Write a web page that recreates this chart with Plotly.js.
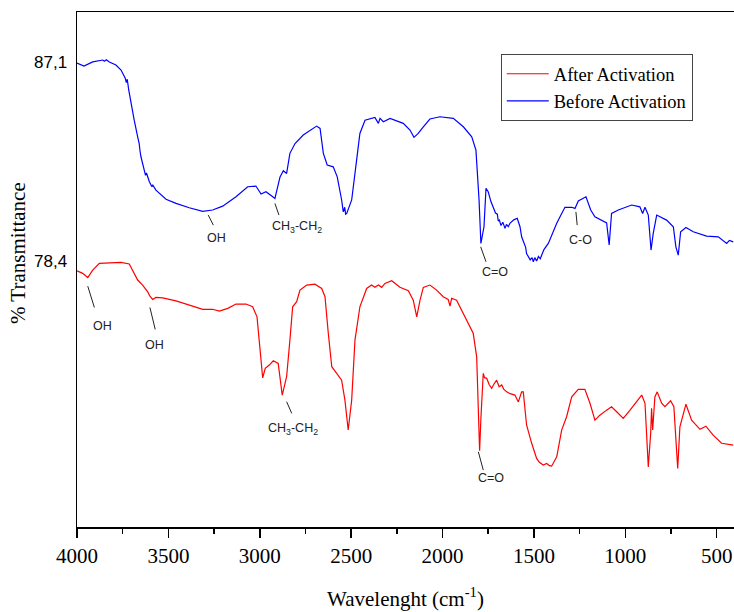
<!DOCTYPE html>
<html>
<head>
<meta charset="utf-8">
<script src="https://cdn.plot.ly/plotly-3.0.1.min.js"></script>
<style>html,body{margin:0;padding:0;background:#fff;overflow:hidden;}#chart{width:734px;height:612px;}</style>
</head>
<body>
<div id="chart"></div>
<script>
// Before Activation (blue) : wavenumber (cm-1), % transmittance
const beforeWn = [4000,3962,3914,3870,3859,3850,3840,3823,3787,3759,3736,3730,3725,3717,3705,3687,3668,3660,3655,3650,3632,3625,3620,3604,3590,3585,3568,3513,3458,3386,3312,3258,3203,3130,3066,3021,2993,2966,2929,2917,2889,2871,2853,2835,2807,2762,2689,2670,2652,2631,2598,2576,2552,2543,2535,2530,2524,2515,2497,2470,2452,2424,2370,2351,2342,2324,2287,2215,2178,2156,2133,2105,2069,2014,1941,1886,1840,1817,1808,1800,1790,1773,1762,1755,1750,1735,1722,1710,1700,1695,1689,1680,1670,1658,1650,1640,1631,1610,1591,1585,1576,1567,1555,1545,1540,1530,1520,1510,1503,1495,1485,1475,1465,1457,1445,1421,1400,1375,1350,1330,1293,1275,1257,1215,1189,1166,1102,1088,1075,1038,965,920,905,892,874,859,847,828,774,737,723,710,697,668,628,555,491,445,430,409];
const beforeT = [87.06,86.93,87.11,87.17,87.19,87.14,87.20,87.10,86.97,86.75,86.39,86.20,86.35,85.88,85.29,84.56,83.83,83.55,83.20,82.96,82.38,82.15,82.25,81.87,81.65,81.72,81.50,81.10,80.92,80.73,80.57,80.63,80.80,81.21,81.65,81.68,81.33,81.43,81.21,81.14,82.08,82.35,82.23,83.11,83.54,83.91,84.30,84.20,83.11,82.60,82.52,82.08,81.07,80.55,80.75,80.45,80.48,80.70,81.07,82.81,83.98,84.56,84.68,84.42,84.64,84.49,84.64,84.42,84.13,83.81,83.98,84.27,84.61,84.71,84.64,84.27,83.83,83.25,82.23,81.07,79.17,79.90,81.58,81.45,81.43,81.00,80.77,80.50,80.45,80.15,80.19,79.95,80.10,79.83,80.00,79.90,80.05,80.20,80.27,80.10,79.90,79.46,79.20,79.00,78.73,78.60,78.45,78.55,78.37,78.55,78.40,78.60,78.50,78.66,78.90,79.17,79.60,80.05,80.45,80.75,80.75,80.70,81.03,81.21,80.63,80.33,80.07,79.10,80.48,80.63,80.85,80.77,80.48,80.75,80.41,78.88,79.61,80.41,80.19,79.90,79.02,78.66,79.68,79.87,79.68,79.49,79.46,79.17,79.30,79.24];

// After Activation (red)
const afterWn = [4000,3969,3941,3914,3878,3823,3759,3714,3687,3668,3641,3613,3600,3586,3568,3531,3458,3386,3312,3258,3221,3175,3130,3075,3039,3015,3003,2993,2984,2970,2948,2926,2899,2877,2853,2835,2820,2798,2780,2743,2698,2661,2643,2625,2606,2579,2552,2534,2516,2497,2479,2452,2415,2388,2370,2351,2333,2315,2278,2233,2187,2160,2141,2123,2105,2069,2032,1996,1969,1959,1950,1923,1886,1859,1832,1813,1804,1797,1790,1777,1770,1758,1745,1731,1720,1704,1690,1676,1665,1649,1630,1604,1585,1567,1558,1540,1512,1485,1470,1449,1430,1415,1403,1375,1348,1321,1293,1257,1221,1193,1166,1139,1102,1075,1047,1011,974,910,892,874,861,856,850,838,825,801,783,752,734,723,713,701,668,637,591,559,519,473,409];
const afterT = [77.97,77.86,77.68,78.00,78.30,78.32,78.34,78.27,77.86,77.57,77.35,77.05,76.85,76.72,76.81,76.79,76.66,76.47,76.29,76.29,76.21,76.33,76.52,76.52,76.40,75.96,74.80,73.78,73.29,73.71,73.85,74.04,73.92,72.54,73.34,74.94,76.40,76.62,77.13,77.35,77.39,77.20,76.84,75.24,73.78,73.49,73.19,72.32,71.01,72.32,74.94,76.40,77.20,77.35,77.25,77.35,77.25,77.42,77.54,77.25,77.10,76.69,75.96,76.69,77.25,77.35,77.13,76.84,76.72,76.43,76.77,76.69,76.11,75.64,75.24,74.21,72.32,70.10,71.50,73.49,73.30,73.27,73.00,72.83,73.00,73.19,72.90,72.98,72.80,72.68,72.60,72.54,72.24,72.68,72.68,71.23,70.43,69.77,69.60,69.48,69.55,69.45,69.43,69.84,71.01,71.59,72.46,72.79,72.79,72.18,71.44,71.66,71.88,72.03,71.81,71.52,71.88,72.54,72.18,69.40,70.86,71.96,71.01,72.46,72.68,72.18,72.03,72.29,72.03,70.57,69.33,71.15,72.14,71.44,71.04,71.18,70.79,70.43,70.35];

const xTickVals = [4000,3500,3000,2500,2000,1500,1000,500];
const xTickText = ['4000','3500','3000','2500','2000','1500','1000','500'];
const yTickVals = [78.4, 87.1];
const yTickText = ['78,4','87,1'];

// band labels: text, leader line (x0,y0)-(x1,y1), text position
const labelText = ['OH','CH<sub>3</sub>-CH<sub>2</sub>','C=O','C-O','OH','OH','CH<sub>3</sub>-CH<sub>2</sub>','C=O'];
const labelLineX0 = [3282,2917,1791,1270,3941,3601,2853,1804];
const labelLineY0 = [80.41,80.92,79.02,80.55,77.30,76.37,72.25,70.06];
const labelLineX1 = [3254,2895,1762,1263,3905,3572,2825,1777];
const labelLineY1 = [79.97,80.41,78.37,79.97,76.37,75.41,71.74,69.26];
const labelX = [3236,2798,1713,1244,3859,3577,2817,1737];
const labelY = [79.39,79.90,77.93,79.32,75.56,74.72,71.04,68.90];

const serif = '"Liberation Serif", "Times New Roman", serif';
const sans = '"Liberation Sans", Arial, sans-serif';

const traces = [
  {x: afterWn, y: afterT, type: 'scatter', mode: 'lines', name: 'After Activation',
   line: {color: '#ff0000', width: 1.2}},
  {x: beforeWn, y: beforeT, type: 'scatter', mode: 'lines', name: 'Before Activation',
   line: {color: '#0000ff', width: 1.2}}
];

const shapes = labelText.map((t, i) => ({
  type: 'line', xref: 'x', yref: 'y',
  x0: labelLineX0[i], y0: labelLineY0[i], x1: labelLineX1[i], y1: labelLineY1[i],
  line: {color: '#222', width: 1}
}));

const annotations = labelText.map((t, i) => ({
  x: labelX[i], y: labelY[i], xref: 'x', yref: 'y', text: t, showarrow: false,
  font: {family: sans, size: 12.5, color: '#222'}, xanchor: 'center', yanchor: 'middle'
}));
annotations.push({
  x: -0.0898, y: 0.532, xref: 'paper', yref: 'paper', text: '% Transmittance',
  textangle: -90, showarrow: false, xanchor: 'center', yanchor: 'middle',
  font: {family: serif, size: 21, color: '#000'}
});

const layout = {
  width: 734, height: 612,
  margin: {l: 77, r: 0, t: 12, b: 85},
  paper_bgcolor: '#fff', plot_bgcolor: '#fff',
  showlegend: true,
  legend: {x: 0.645, y: 0.918, xanchor: 'left', yanchor: 'top',
    bgcolor: '#fff', bordercolor: '#444', borderwidth: 1, itemwidth: 42,
    font: {family: serif, size: 18.5, color: '#000'}, tracegroupgap: 0},
  xaxis: {
    range: [4000, 405], autorange: false,
    tickvals: xTickVals, ticktext: xTickText,
    ticks: 'outside', ticklen: 9, tickwidth: 1.5, tickcolor: '#000',
    minor: {dtick: 250, tick0: 0, ticks: 'outside', ticklen: 5, tickwidth: 1.5, tickcolor: '#000', showgrid: false},
    showline: true, linecolor: '#000', linewidth: 1.5, mirror: true,
    showgrid: false, zeroline: false,
    tickfont: {family: serif, size: 21, color: '#000'},
    title: {text: 'Wavelenght (cm<sup>-1</sup>)', font: {family: serif, size: 21, color: '#000'}, standoff: 24}
  },
  yaxis: {
    range: [66.77, 89.29], autorange: false,
    tickvals: yTickVals, ticktext: yTickText,
    ticks: '', ticklabelstandoff: 5,
    showline: true, linecolor: '#000', linewidth: 1.5,
    showgrid: false, zeroline: false,
    tickfont: {family: sans, size: 17, color: '#000'}
  },
  shapes: shapes,
  annotations: annotations
};

Plotly.newPlot('chart', traces, layout, {displayModeBar: false, staticPlot: true});
</script>
</body>
</html>
